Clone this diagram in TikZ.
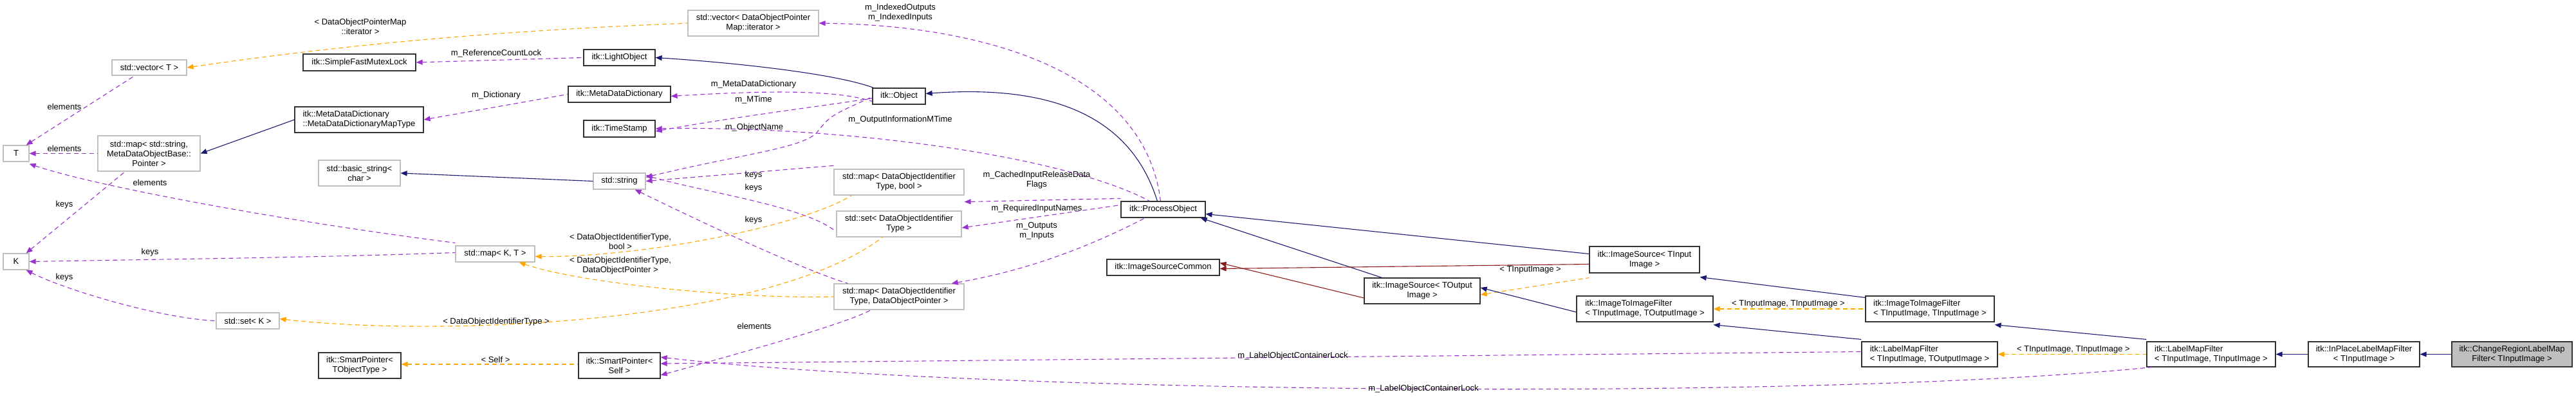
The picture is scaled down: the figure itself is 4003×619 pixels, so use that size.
\documentclass[tikz,border=0pt]{standalone}
\usepackage{fontspec}
\setmainfont{Liberation Sans}
\usetikzlibrary{arrows.meta}
\definecolor{inhc}{HTML}{191970}
\definecolor{usec}{HTML}{9A32CD}
\definecolor{tplc}{HTML}{FFA500}
\definecolor{drc}{HTML}{8B1A1A}
\definecolor{gbd}{HTML}{BFBFBF}
\newcommand\lblfont{\fontsize{13}{15}\selectfont}
\newcommand\mkbox[7]{\node[#2, minimum width={#5-#3}, minimum height={#6-#4}] (#1) at ({(#3+#5)/2},{(#4+#6)/2}) {#7};}
\begin{document}
\begin{tikzpicture}[x=1pt,y=-1pt,
  bx/.style={draw=black!80, line width=1.2pt, fill=white, inner sep=0pt, align=center, font=\lblfont},
  gb/.style={bx, draw=gbd},
  lb/.style={inner sep=0pt, align=center, font=\lblfont},
  tip/.style={{Triangle[length=10pt,width=8pt]}-},
  inh/.style={tip, draw=inhc, line width=1.1pt},
  dr/.style={tip, draw=drc, line width=1.1pt},
  use/.style={tip, draw=usec, line width=1.1pt, dash pattern=on 7pt off 5pt},
  tpl/.style={tip, draw=tplc, line width=1.1pt, dash pattern=on 7pt off 5pt}]
\useasboundingbox (0,0) rectangle (4003,619);
% nodes
\mkbox{vecT}{gb}{174}{93}{290}{117}{std::vector< T >}
\mkbox{sfml}{bx}{471}{84}{646}{110}{itk::SimpleFastMutexLock}
\mkbox{mddmt}{bx}{458}{166}{658}{206}{\begin{tabular}{@{}l@{}}itk::MetaDataDictionary\\::MetaDataDictionaryMapType\end{tabular}}
\mkbox{mapstr}{gb}{152}{211}{311}{266}{std::map< std::string,\\MetaDataObjectBase::\\Pointer >}
\mkbox{T}{gb}{5}{226}{45}{251}{T}
\mkbox{bstr}{gb}{495}{249}{622}{289}{std::basic\_string<\\char >}
\mkbox{K}{gb}{5}{394}{45}{419}{K}
\mkbox{setK}{gb}{336}{486}{434}{511}{std::set< K >}
\mkbox{sptobj}{bx}{495}{548}{623}{588}{itk::SmartPointer<\\TObjectType >}
\mkbox{vecdopm}{gb}{1069}{16}{1272}{56}{std::vector< DataObjectPointer\\Map::iterator >}
\mkbox{light}{bx}{907}{77}{1018}{102}{itk::LightObject}
\mkbox{mdd}{bx}{883}{134}{1042}{159}{itk::MetaDataDictionary}
\mkbox{ts}{bx}{907}{187}{1018}{213}{itk::TimeStamp}
\mkbox{str}{gb}{922}{269}{1003}{294}{std::string}
\mkbox{mapKT}{gb}{708}{382}{831}{407}{std::map< K, T >}
\mkbox{spself}{bx}{899}{548}{1026}{588}{itk::SmartPointer<\\Self >}
\mkbox{obj}{bx}{1356}{137}{1438}{162}{itk::Object}
\mkbox{mapbool}{gb}{1296}{263}{1498}{303}{std::map< DataObjectIdentifier\\Type, bool >}
\mkbox{setdoi}{gb}{1300}{328}{1494}{368}{std::set< DataObjectIdentifier\\Type >}
\mkbox{mapdop}{gb}{1296}{441}{1498}{481}{std::map< DataObjectIdentifier\\Type, DataObjectPointer >}
\mkbox{po}{bx}{1742}{313}{1873}{338}{itk::ProcessObject}
\mkbox{isc}{bx}{1720}{403}{1895}{428}{itk::ImageSourceCommon}
\mkbox{isin}{bx}{2470}{383}{2641}{424}{itk::ImageSource< TInput\\Image >}
\mkbox{isout}{bx}{2120}{432}{2300}{472}{itk::ImageSource< TOutput\\Image >}
\mkbox{itiftt}{bx}{2450}{460}{2662}{500}{\begin{tabular}{@{}l@{}}itk::ImageToImageFilter\\< TInputImage, TOutputImage >\end{tabular}}
\mkbox{itifii}{bx}{2899}{460}{3099}{500}{\begin{tabular}{@{}l@{}}itk::ImageToImageFilter\\< TInputImage, TInputImage >\end{tabular}}
\mkbox{lmfto}{bx}{2893}{531}{3104}{570}{\begin{tabular}{@{}l@{}}itk::LabelMapFilter\\< TInputImage, TOutputImage >\end{tabular}}
\mkbox{lmfii}{bx}{3336}{531}{3536}{570}{\begin{tabular}{@{}l@{}}itk::LabelMapFilter\\< TInputImage, TInputImage >\end{tabular}}
\mkbox{inpl}{bx}{3587}{531}{3760}{570}{itk::InPlaceLabelMapFilter\\< TInputImage >}
\mkbox{crlm}{bx, fill=gbd}{3810}{531}{3997}{570}{itk::ChangeRegionLabelMap\\Filter< TInputImage >}
% edges
\draw[tpl] (vecT.east) .. controls (600,60) and (850,45) .. (vecdopm.west);
\draw[use] (sfml.east) -- (light.west);
\draw[use] (mddmt.east) -- (mdd.west);
\draw[inh] (mapstr.east) -- (mddmt.west);
\draw[use] (T.east) -- (mapstr.west);
\draw[use] ([xshift=-5pt]T.north east) -- ([xshift=36pt]vecT.south west);
\draw[use] ([xshift=-5pt]K.north east) -- ([xshift=43pt]mapstr.south west);
\draw[inh] (bstr.east) -- (str.west);
\draw[use] ([yshift=-3pt]T.south east) .. controls (150,290) and (450,345) .. ([yshift=4pt]mapKT.north west);
\draw[use] (K.east) .. controls (300,402) and (500,400) .. ([yshift=2pt]mapKT.west);
\draw[use] ([xshift=-5pt]K.south east) .. controls (100,450) and (250,495) .. (setK.west);
\draw[inh] (light.east) .. controls (1150,98) and (1300,115) .. ([xshift=2pt]obj.north west);
\draw[use] ([yshift=-3pt]mdd.east) .. controls (1200,140) and (1300,140) .. ([yshift=-8pt]obj.west);
\draw[use] ([yshift=-4pt]ts.east) .. controls (1150,180) and (1300,162) .. ([yshift=-3pt]obj.west);
\draw[use] ([yshift=-7pt]str.north east) .. controls (1150,240) and (1250,230) .. (1270,205) .. controls (1290,180) .. ([yshift=-1pt]obj.west);
\draw[use] (ts.east) .. controls (1300,195) and (1650,240) .. ([xshift=45pt]po.north west);
\draw[inh] ([yshift=4pt]obj.east) .. controls (1650,130) and (1760,190) .. ([xshift=57pt]po.north west);
\draw[use] (vecdopm.east) .. controls (1550,40) and (1780,120) .. ([xshift=62pt]po.north west);
\draw[use] ([yshift=-10pt]mapbool.south east) -- ([yshift=4pt]po.north west);
\draw[use] ([yshift=-6pt]setdoi.east) -- ([yshift=7pt]po.west);
\draw[use] ([xshift=-20pt]mapdop.north east) .. controls (1600,420) and (1700,380) .. ([xshift=38pt]po.south west);
\draw[use] (str.east) -- ([yshift=5pt]mapbool.north west);
\draw[use] ([yshift=9pt]str.east) .. controls (1100,300) and (1250,320) .. ([yshift=-12pt]setdoi.west);
\draw[use] ([xshift=-17pt]str.south east) .. controls (1100,350) and (1250,420) .. ([xshift=22pt]mapdop.north west);
\draw[tpl] ([yshift=-4pt]mapKT.east) .. controls (1000,400) and (1250,350) .. ([xshift=28pt]mapbool.south west);
\draw[tpl] ([xshift=-25pt]mapKT.south east) .. controls (900,440) and (1150,465) .. (mapdop.west);
\draw[tpl] ([yshift=3pt]setK.east) .. controls (700,525) and (1200,500) .. ([xshift=72pt]setdoi.south west);
\draw[use] ([yshift=-15pt]spself.east) .. controls (1200,535) and (1320,500) .. ([xshift=58pt]mapdop.south west);
\draw[tpl] ([yshift=2pt]sptobj.east) -- ([yshift=2pt]spself.west);
\draw[use] ([yshift=3pt]spself.east) -- ([yshift=4pt]lmfto.west);
\draw[use] ([yshift=13pt]spself.east) .. controls (1500,610) and (2800,625) .. ([xshift=8pt]lmfii.south west);
\draw[inh] ([yshift=-7pt]po.east) -- ([yshift=9pt]isin.west);
\draw[inh] ([xshift=-8pt]po.south east) -- ([xshift=28pt]isout.north west);
\draw[dr] ([yshift=-2pt]isc.east) -- ([yshift=-7pt]isin.west);
\draw[dr] ([yshift=7pt]isc.east) -- ([yshift=-11pt]isout.west);
\draw[tpl] ([yshift=-6pt]isout.east) -- ([yshift=-7pt]isin.south west);
\draw[inh] ([yshift=5pt]isout.east) -- ([yshift=-5pt]itiftt.west);
\draw[inh] ([yshift=-6pt]isin.south east) -- ([yshift=-3pt]itifii.north west);
\draw[tpl] (itiftt.east) -- (itifii.west);
\draw[inh] ([yshift=-4pt]itiftt.south east) -- ([yshift=3pt]lmfto.north west);
\draw[inh] ([yshift=-4pt]itifii.south east) -- ([yshift=3pt]lmfii.north west);
\draw[tpl] (lmfto.east) -- (lmfii.west);
\draw[inh] (lmfii.east) -- (inpl.west);
\draw[inh] (inpl.east) -- (crlm.west);
% labels
\node[lb] (l1) at (560,41) {< DataObjectPointerMap\\::iterator >};
\node[lb] (l2) at (771,83) {m\_ReferenceCountLock};
\node[lb] (l3) at (771,148) {m\_Dictionary};
\node[lb] (l4) at (100,166) {elements};
\node[lb] (l5) at (100,231) {elements};
\node[lb] (l6) at (233,284) {elements};
\node[lb] (l7) at (100,318) {keys};
\node[lb] (l8) at (233,392) {keys};
\node[lb] (l9) at (100,431) {keys};
\node[lb] (l10) at (1171,131) {m\_MetaDataDictionary};
\node[lb] (l11) at (1171,155) {m\_MTime};
\node[lb] (l12) at (1172,198) {m\_ObjectName};
\node[lb] (l13) at (1399,186) {m\_OutputInformationMTime};
\node[lb] (l14) at (1399,20) {m\_IndexedOutputs\\m\_IndexedInputs};
\node[lb] (l15) at (1611,280) {m\_CachedInputReleaseData\\Flags};
\node[lb] (l16) at (1611,324) {m\_RequiredInputNames};
\node[lb] (l17) at (1611,359) {m\_Outputs\\m\_Inputs};
\node[lb] (l18) at (1171,272) {keys};
\node[lb] (l19) at (1171,292) {keys};
\node[lb] (l20) at (1171,342) {keys};
\node[lb] (l21) at (964,375) {< DataObjectIdentifierType,\\bool >};
\node[lb] (l22) at (964,413) {< DataObjectIdentifierType,\\DataObjectPointer >};
\node[lb] (l23) at (771,500) {< DataObjectIdentifierType >};
\node[lb] (l24) at (1172,507) {elements};
\node[lb] (l25) at (770,559) {< Self >};
\node[lb] (l26) at (2378,419) {< TInputImage >};
\node[lb] (l27) at (2779,472) {< TInputImage, TInputImage >};
\node[lb] (l28) at (2009,553) {m\_LabelObjectContainerLock};
\node[lb] (l29) at (3222,543) {< TInputImage, TInputImage >};
\node[lb] (l30) at (2212,604) {m\_LabelObjectContainerLock};
\end{tikzpicture}
\end{document}
